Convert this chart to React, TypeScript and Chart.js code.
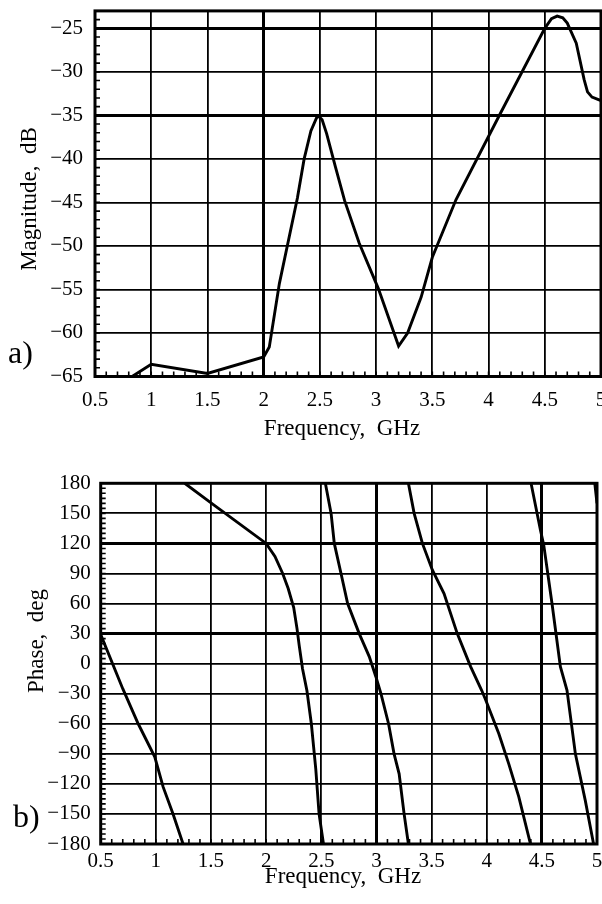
import React, { useEffect, useRef } from 'react';
import { Chart, registerables } from 'chart.js';

Chart.register(...registerables);

// ---------- data ----------
const freqTicks = [0.5, 1, 1.5, 2, 2.5, 3, 3.5, 4, 4.5, 5];
const magTicks = [-65, -60, -55, -50, -45, -40, -35, -30, -25];
const phaseTicks = [-180, -150, -120, -90, -60, -30, 0, 30, 60, 90, 120, 150, 180];

const magFreq = [
  0.83, 1.0, 1.5, 2.0, 2.05, 2.14, 2.3, 2.36, 2.42, 2.47, 2.49, 2.52, 2.56, 2.64, 2.72,
  2.85, 3.02, 3.2, 3.28, 3.4, 3.5, 3.71, 4.1, 4.5, 4.56, 4.61, 4.66, 4.7, 4.78, 4.85,
  4.88, 4.92, 5.0,
];
const magDb = [
  -65, -63.6, -64.65, -62.75, -61.6, -54.3, -44.5, -40, -36.8, -35.3, -35.1, -35.5, -37.1, -41,
  -44.8, -49.7, -54.9, -61.5, -60, -55.9, -51.3, -44.7, -34.9, -25, -23.9, -23.6, -23.8,
  -24.4, -26.7, -30.9, -32.3, -32.9, -33.3,
];

const phaseFreq = [
  0.5, 0.7, 0.84, 0.99, 1.066, 1.156, 1.247, 1.25,
  1.262, 1.5, 2.0, 2.08, 2.15, 2.2, 2.25, 2.28, 2.3, 2.33, 2.37, 2.41, 2.45, 2.48, 2.52, 2.53,
  2.537, 2.589, 2.618, 2.679, 2.739, 2.844, 2.935, 2.995, 3.041, 3.11, 3.16, 3.206, 3.251, 3.29, 3.29,
  3.29, 3.342, 3.417, 3.507, 3.613, 3.733, 3.854, 3.954, 3.99, 4.11, 4.2, 4.291, 4.397, 4.4,
  4.402, 4.487, 4.517, 4.592, 4.668, 4.728, 4.804, 4.894, 4.969, 4.975,
  4.98, 5.0,
];
const phaseDeg = [
  29, -25, -60, -93, -123, -150, -180, null,
  180, 160.5, 120, 107, 90, 75, 56, 35, 18, -5, -27, -60, -105, -150, -180, null,
  180, 150, 120, 90, 60, 30, 7, -13, -30, -60, -90, -110, -150, -180, null,
  180, 150, 120, 93.5, 70, 30, -3, -26.6, -36, -70, -100, -133, -180, null,
  180, 133.4, 118.5, 60, -3, -26.6, -90, -136.7, -180, null,
  180, 160,
];

// ---------- styling ----------
const FONT = "'Liberation Serif', 'Times New Roman', serif";

type PanelCfg = {
  xTitle: string;
  yTitle: string;
  tag: string;
  xTitlePos: [number, number];
  yTitlePos: [number, number];
  tagPos: [number, number];
  xMinorStep: number;
  yMinorStep: number;
};

function makePlugin(cfg: PanelCfg) {
  return {
    id: 'panelDecor',
    afterDatasetsDraw(chart: any) {
      const { ctx, chartArea } = chart;
      const xs = chart.scales.x;
      const ys = chart.scales.y;
      ctx.save();
      ctx.strokeStyle = '#000';
      ctx.lineWidth = 1.6;
      ctx.beginPath();
      const xmin = xs.min, xmax = xs.max;
      const nX = Math.round((xmax - xmin) / cfg.xMinorStep);
      for (let i = 1; i < nX; i++) {
        const v = xmin + i * cfg.xMinorStep;
        const px = xs.getPixelForValue(v);
        ctx.moveTo(px, chartArea.bottom);
        ctx.lineTo(px, chartArea.bottom - 5);
      }
      const ymin = ys.min, ymax = ys.max;
      const nY = Math.round((ymax - ymin) / cfg.yMinorStep);
      for (let i = 1; i < nY; i++) {
        const v = ymin + i * cfg.yMinorStep;
        const py = ys.getPixelForValue(v);
        ctx.moveTo(chartArea.left, py);
        ctx.lineTo(chartArea.left + 5, py);
      }
      ctx.stroke();
      ctx.lineWidth = 3;
      ctx.strokeRect(chartArea.left, chartArea.top, chartArea.right - chartArea.left, chartArea.bottom - chartArea.top);
      ctx.fillStyle = '#000';
      ctx.font = `23px ${FONT}`;
      ctx.textAlign = 'center';
      ctx.textBaseline = 'alphabetic';
      ctx.fillText(cfg.xTitle, cfg.xTitlePos[0], cfg.xTitlePos[1]);
      ctx.save();
      ctx.translate(cfg.yTitlePos[0], cfg.yTitlePos[1]);
      ctx.rotate(-Math.PI / 2);
      ctx.fillText(cfg.yTitle, 0, 0);
      ctx.restore();
      ctx.font = `32px ${FONT}`;
      ctx.textAlign = 'left';
      ctx.fillText(cfg.tag, cfg.tagPos[0], cfg.tagPos[1]);
      ctx.restore();
    },
  };
}

const fmt = (v: number) => String(v).replace('-', '\u2212');

function buildOptions(o: {
  yMin: number; yMax: number; yTicks: number[]; pad: any; yWidth: number; xHeight: number;
  xTickPad: number; yTickPad: number; emphX: number[]; emphY: number[];
}) {
  return {
    responsive: false,
    animation: false as const,
    events: [],
    layout: { padding: o.pad },
    plugins: { legend: { display: false }, tooltip: { enabled: false } },
    scales: {
      x: {
        type: 'linear' as const,
        min: 0.5,
        max: 5,
        afterBuildTicks: (s: any) => { s.ticks = freqTicks.map((v) => ({ value: v })); },
        afterFit: (s: any) => { s.height = o.xHeight; s.paddingLeft = 0; s.paddingRight = 0; },
        border: { display: false },
        grid: {
          color: '#000',
          drawTicks: false,
          lineWidth: (c: any) => (o.emphX.includes(c.tick?.value) ? 3 : 1.8),
        },
        ticks: {
          autoSkip: false,
          maxRotation: 0,
          padding: o.xTickPad,
          color: '#000',
          font: { family: FONT, size: 21 },
          callback: (v: any) => fmt(v),
        },
      },
      y: {
        type: 'linear' as const,
        min: o.yMin,
        max: o.yMax,
        afterBuildTicks: (s: any) => { s.ticks = o.yTicks.map((v) => ({ value: v })); },
        afterFit: (s: any) => { s.width = o.yWidth; s.paddingTop = 0; s.paddingBottom = 0; },
        border: { display: false },
        grid: {
          color: '#000',
          drawTicks: false,
          lineWidth: (c: any) => (o.emphY.includes(c.tick?.value) ? 3 : 1.8),
        },
        ticks: {
          autoSkip: false,
          padding: o.yTickPad,
          color: '#000',
          font: { family: FONT, size: 21 },
          callback: (v: any) => fmt(v),
        },
      },
    },
  };
}

function Panel(props: { height: number; top: number; make: (c: HTMLCanvasElement) => Chart }) {
  const ref = useRef<HTMLCanvasElement | null>(null);
  useEffect(() => {
    if (!ref.current) return;
    const ch = props.make(ref.current);
    return () => ch.destroy();
  }, []);
  return (
    <canvas
      ref={ref}
      width={602}
      height={props.height}
      style={{ position: 'absolute', left: 0, top: props.top, width: 602, height: props.height, display: 'block' }}
    />
  );
}

export default function App() {
  const makeMag = (canvas: HTMLCanvasElement) =>
    new Chart(canvas, {
      type: 'line',
      data: {
        datasets: [
          {
            data: magFreq.map((f, i) => ({ x: f, y: magDb[i] })),
            borderColor: '#000',
            borderWidth: 2.9,
            pointRadius: 0,
            tension: 0,
          },
        ],
      },
      options: buildOptions({
        yMin: -65, yMax: -23, yTicks: magTicks,
        pad: { left: 0, top: 10.9, right: 1, bottom: 0 },
        yWidth: 95, xHeight: 450 - 376.5,
        xTickPad: 11, yTickPad: 12,
        emphX: [2], emphY: [-25, -35],
      }) as any,
      plugins: [
        makePlugin({
          xTitle: 'Frequency,  GHz', yTitle: 'Magnitude,  dB', tag: 'a)',
          xTitlePos: [342, 435], yTitlePos: [36, 199], tagPos: [8, 363],
          xMinorStep: 0.1, yMinorStep: 1,
        }),
      ],
    });

  const makePhase = (canvas: HTMLCanvasElement) =>
    new Chart(canvas, {
      type: 'line',
      data: {
        datasets: [
          {
            data: phaseFreq.map((f, i) => ({ x: f, y: phaseDeg[i] })),
            borderColor: '#000',
            borderWidth: 2.9,
            pointRadius: 0,
            tension: 0,
            spanGaps: false,
          },
        ],
      },
      options: buildOptions({
        yMin: -180, yMax: 180, yTicks: phaseTicks,
        pad: { left: 0, top: 33.3, right: 5, bottom: 0 },
        yWidth: 100.7, xHeight: 454 - 394,
        xTickPad: 5, yTickPad: 10,
        emphX: [3, 4.5], emphY: [120, 30],
      }) as any,
      plugins: [
        makePlugin({
          xTitle: 'Frequency,  GHz', yTitle: 'Phase,  deg', tag: 'b)',
          xTitlePos: [343, 433], yTitlePos: [43, 191], tagPos: [13, 377],
          xMinorStep: 0.1, yMinorStep: 5,
        }),
      ],
    });

  return (
    <div style={{ position: 'absolute', left: 0, top: 0, width: 602, height: 904, background: '#fff' }}>
      <Panel height={450} top={0} make={makeMag} />
      <Panel height={454} top={450} make={makePhase} />
    </div>
  );
}
